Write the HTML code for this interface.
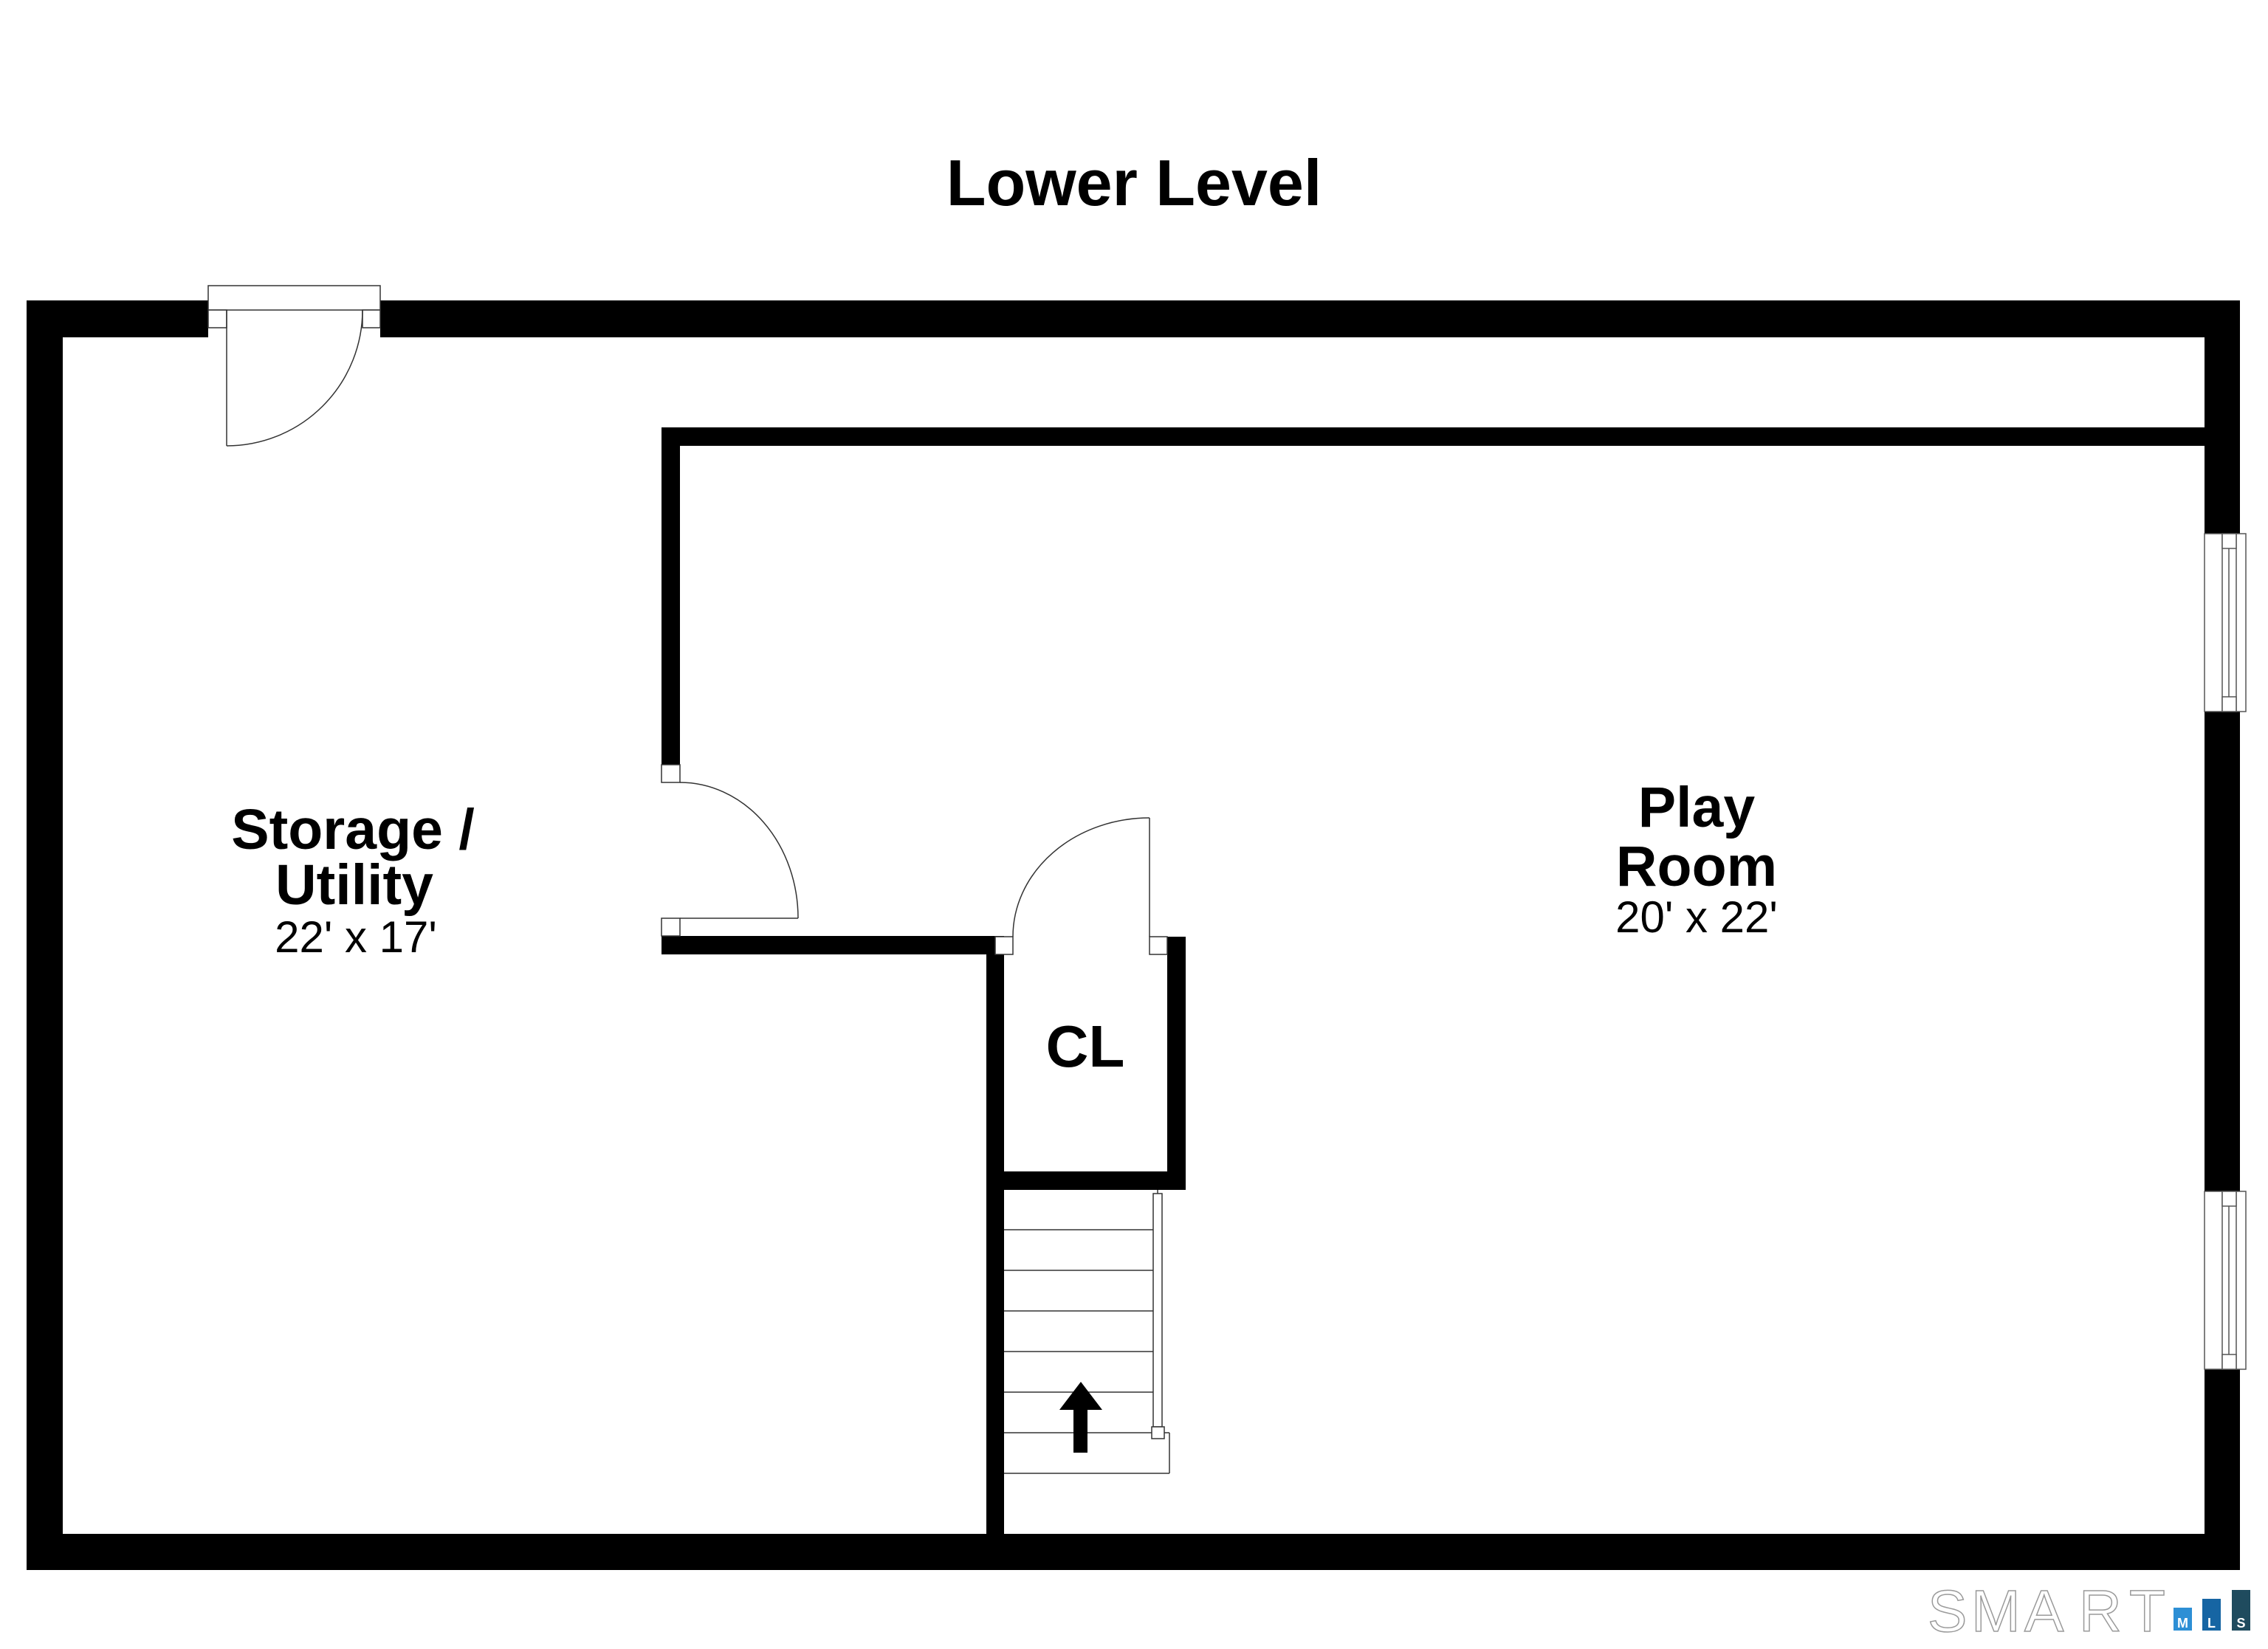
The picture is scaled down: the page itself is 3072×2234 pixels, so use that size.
<!DOCTYPE html>
<html>
<head>
<meta charset="utf-8">
<style>
  html,body{margin:0;padding:0;background:#fff;}
  svg{display:block;}
</style>
</head>
<body>
<svg width="3072" height="2234" viewBox="0 0 3072 2234" xmlns="http://www.w3.org/2000/svg">
  <rect x="0" y="0" width="3072" height="2234" fill="#fff"/>

  <!-- Title -->
  <text x="1536" y="278" text-anchor="middle" font-family="Liberation Sans, Arial, sans-serif" font-weight="bold" font-size="88" fill="#000">Lower Level</text>

  <!-- Outer walls -->
  <g fill="#000">
    <rect x="36" y="407" width="246" height="50"/>
    <rect x="515" y="407" width="2519" height="50"/>
    <rect x="36" y="407" width="49" height="1720"/>
    <rect x="2986" y="407" width="48" height="316"/>
    <rect x="2986" y="964" width="48" height="650"/>
    <rect x="2986" y="1855" width="48" height="272"/>
    <rect x="36" y="2078" width="2998" height="49"/>

    <!-- Interior walls -->
    <rect x="896" y="579" width="2090" height="25"/>
    <rect x="896" y="579" width="25" height="457"/>
    <rect x="896" y="1268" width="452" height="25"/>
    <rect x="1336" y="1268" width="24" height="810"/>
    <!-- closet -->
    <rect x="1581" y="1269" width="25" height="343"/>
    <rect x="1360" y="1587" width="246" height="25"/>
  </g>

  <!-- Top-left exterior door -->
  <g fill="#fff" stroke="#333" stroke-width="1.5">
    <rect x="282" y="387" width="233" height="33"/>
    <rect x="282" y="420" width="25" height="24"/>
    <rect x="491" y="420" width="24" height="24"/>
  </g>
  <g fill="none" stroke="#333" stroke-width="1.5">
    <line x1="307" y1="420" x2="307" y2="604"/>
    <path d="M307 604 A184 184 0 0 0 491 420"/>
  </g>

  <!-- Storage door (interior) -->
  <g fill="#fff" stroke="#333" stroke-width="1.5">
    <rect x="896" y="1036" width="25" height="24"/>
    <rect x="896" y="1244" width="25" height="24"/>
  </g>
  <g fill="none" stroke="#333" stroke-width="1.5">
    <line x1="921" y1="1244" x2="1081" y2="1244"/>
    <path d="M921 1060 A160 184 0 0 1 1081 1244"/>
  </g>

  <!-- Closet door -->
  <g fill="#fff" stroke="#333" stroke-width="1.5">
    <rect x="1348" y="1269" width="24" height="24"/>
    <rect x="1557" y="1269" width="24" height="24"/>
  </g>
  <g fill="none" stroke="#333" stroke-width="1.5">
    <line x1="1557" y1="1108" x2="1557" y2="1269"/>
    <path d="M1372 1269 A185 161 0 0 1 1557 1108"/>
  </g>

  <!-- Stairs -->
  <g fill="none" stroke="#333" stroke-width="1.5">
    <line x1="1360" y1="1666" x2="1562" y2="1666"/>
    <line x1="1360" y1="1721" x2="1562" y2="1721"/>
    <line x1="1360" y1="1776" x2="1562" y2="1776"/>
    <line x1="1360" y1="1831" x2="1562" y2="1831"/>
    <line x1="1360" y1="1886" x2="1562" y2="1886"/>
    <line x1="1360" y1="1941" x2="1584" y2="1941"/>
    <line x1="1584" y1="1941" x2="1584" y2="1996"/>
    <line x1="1360" y1="1996" x2="1584" y2="1996"/>
    <line x1="1568" y1="1612" x2="1568" y2="1617"/>
  </g>
  <g fill="#fff" stroke="#333" stroke-width="1.5">
    <rect x="1562" y="1617" width="12" height="316"/>
    <rect x="1560" y="1933" width="17" height="16"/>
  </g>
  <!-- Arrow -->
  <g fill="#000">
    <polygon points="1464,1872 1435,1910 1493,1910"/>
    <rect x="1454" y="1909" width="19" height="59"/>
  </g>

  <!-- Windows right wall -->
  <g fill="#fff" stroke="#555" stroke-width="1.5">
    <rect x="2986" y="723" width="56" height="241"/>
    <line x1="3010" y1="723" x2="3010" y2="964"/>
    <line x1="3029" y1="723" x2="3029" y2="964"/>
    <rect x="3010" y="723" width="19" height="20"/>
    <rect x="3010" y="944" width="19" height="20"/>
    <line x1="3019" y1="743" x2="3019" y2="944"/>

    <rect x="2986" y="1614" width="56" height="241"/>
    <line x1="3010" y1="1614" x2="3010" y2="1855"/>
    <line x1="3029" y1="1614" x2="3029" y2="1855"/>
    <rect x="3010" y="1614" width="19" height="20"/>
    <rect x="3010" y="1835" width="19" height="20"/>
    <line x1="3019" y1="1634" x2="3019" y2="1835"/>
  </g>

  <!-- Room labels -->
  <g font-family="Liberation Sans, Arial, sans-serif" fill="#000" text-anchor="middle">
    <text x="478" y="1150" font-size="77" font-weight="bold">Storage /</text>
    <text x="480" y="1225" font-size="77" font-weight="bold">Utility</text>
    <text x="482" y="1290" font-size="60">22' x 17'</text>

    <text x="2298" y="1120" font-size="77" font-weight="bold">Play</text>
    <text x="2298" y="1200" font-size="77" font-weight="bold">Room</text>
    <text x="2298" y="1263" font-size="60">20' x 22'</text>

    <text x="1470" y="1445" font-size="80" font-weight="bold">CL</text>
  </g>

  <!-- SMART MLS logo -->
  <g font-family="Liberation Sans, Arial, sans-serif" font-size="80" fill="#fff" stroke="#9a9a9a" stroke-width="1.5">
    <text x="2611" y="2210">S</text>
    <text x="2670" y="2210">M</text>
    <text x="2742" y="2210">A</text>
    <text x="2816" y="2210">R</text>
    <text x="2884" y="2210">T</text>
  </g>
  <rect x="2944" y="2178" width="25" height="31" fill="#2d8fd5"/>
  <rect x="2983" y="2166" width="25" height="43" fill="#1665a3"/>
  <rect x="3023" y="2154" width="25" height="55" fill="#1f4b5e"/>
  <g font-family="Liberation Sans, Arial, sans-serif" font-size="18" font-weight="bold" fill="#fff" text-anchor="middle">
    <text x="2956.5" y="2205">M</text>
    <text x="2995.5" y="2205">L</text>
    <text x="3035.5" y="2205">S</text>
  </g>
</svg>
</body>
</html>
